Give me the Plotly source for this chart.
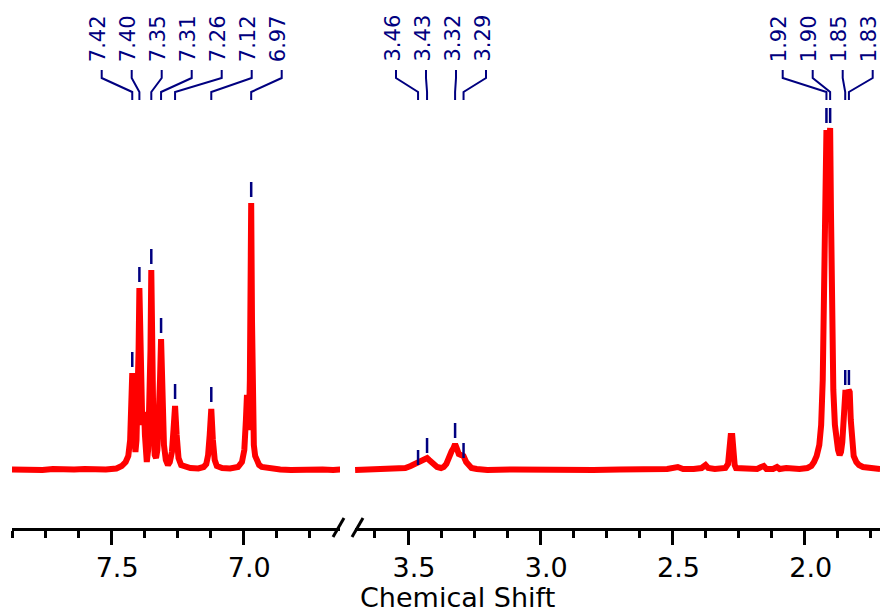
import plotly.graph_objects as go

# ---------------- data ----------------
# left (aromatic) segment of the spectrum: chemical shift (ppm) and intensity
left_ppm = [7.875, 7.84, 7.80, 7.76, 7.72, 7.68, 7.64, 7.60, 7.56, 7.52, 7.48, 7.46, 7.445, 7.435,
            7.428, 7.424, 7.420, 7.416, 7.412, 7.408, 7.404, 7.399, 7.396, 7.393, 7.390, 7.386,
            7.382, 7.378, 7.375, 7.372, 7.368, 7.365, 7.360, 7.355, 7.351, 7.348, 7.345, 7.340,
            7.335, 7.330, 7.325, 7.320, 7.315, 7.311, 7.307, 7.300, 7.293, 7.285, 7.278, 7.270,
            7.264, 7.258, 7.252, 7.245, 7.235, 7.220, 7.200, 7.170, 7.150, 7.140, 7.133, 7.127,
            7.121, 7.115, 7.108, 7.100, 7.080, 7.050, 7.020, 7.005, 6.996, 6.990, 6.986, 6.983,
            6.979, 6.975, 6.972, 6.970, 6.967, 6.964, 6.960, 6.955, 6.948, 6.940, 6.930, 6.900,
            6.860, 6.820, 6.780, 6.740, 6.700, 6.660, 6.630]
left_int = [0.5, 0, 0.5, 0, 1, 0, 0.5, 1, 0, 0.5, 1.5, 4, 8, 14,
            30, 55, 97, 55, 28, 18, 30, 70, 120, 182, 110, 60,
            45, 55, 58, 35, 12, 8, 20, 60, 120, 200, 120, 40,
            15, 12, 20, 45, 90, 131, 80, 25, 10, 5, 8, 18,
            40, 64, 35, 12, 5, 3, 2, 1.5, 3, 6, 15, 35,
            61, 30, 10, 4, 2, 1.5, 3, 8, 20, 50, 75, 50,
            40, 90, 180, 267, 150, 60, 25, 14, 8, 5, 3, 1.5,
            0.5, 0, 0.5, 0, 0.5, 0, 0.5]

# right (aliphatic) segment of the spectrum
right_ppm = [3.70, 3.66, 3.62, 3.58, 3.54, 3.51, 3.49, 3.475, 3.462, 3.45, 3.44, 3.428, 3.42, 3.41,
             3.40, 3.39, 3.375, 3.365, 3.355, 3.348, 3.341, 3.335, 3.328, 3.322, 3.316, 3.308,
             3.300, 3.290, 3.280, 3.270, 3.260, 3.240, 3.20, 3.10, 3.00, 2.90, 2.80, 2.70, 2.60,
             2.52, 2.48, 2.46, 2.42, 2.39, 2.375, 2.365, 2.34, 2.30, 2.290, 2.285, 2.280, 2.274,
             2.270, 2.265, 2.26, 2.22, 2.18, 2.165, 2.155, 2.145, 2.12, 2.105, 2.095, 2.07, 2.05,
             2.02, 1.99, 1.975, 1.965, 1.955, 1.945, 1.938, 1.932, 1.927, 1.922, 1.918, 1.914,
             1.911, 1.908, 1.904, 1.901, 1.897, 1.892, 1.886, 1.880, 1.874, 1.868, 1.863, 1.858,
             1.853, 1.849, 1.846, 1.840, 1.834, 1.830, 1.826, 1.822, 1.815, 1.805, 1.795, 1.780,
             1.76, 1.74, 1.715]
right_int = [0, 0.5, 0, 0.5, 1, 2, 4, 6, 8, 10, 11, 12, 10, 7,
             5, 3, 2, 3, 6, 12, 18, 19, 22, 26, 22, 16,
             15, 14, 8, 4, 2, 1, 0, 0.5, 0, 0.5, 0, 0.5, 0,
             1, 3, 1, 1, 2, 5, 2, 1, 2, 6, 15, 34, 34,
             15, 5, 2, 1, 1, 3, 4, 1, 1, 3, 1, 2, 1,
             1, 2, 4, 8, 14, 25, 45, 90, 170, 280, 340, 315,
             305, 320, 342, 260, 150, 80, 45, 30, 20, 15, 18, 28,
             50, 78, 80, 68, 80, 78, 50, 25, 14, 8, 5, 3,
             2, 1, 1]

# picked peaks
peak_labels = ["7.42", "7.40", "7.35", "7.31", "7.26", "7.12", "6.97",
               "3.46", "3.43", "3.32", "3.29",
               "1.92", "1.90", "1.85", "1.83"]
peak_ppm = [7.420, 7.393, 7.348, 7.311, 7.258, 7.121, 6.970,
            3.462, 3.428, 3.322, 3.290,
            1.918, 1.904, 1.847, 1.833]
peak_mark = [103, 188, 206, 137, 71, 68, 273,
             5, 17, 32, 12,
             347, 347, 85, 85]
peak_axis = ["x"] * 7 + ["x2"] * 8

x_ticks = [7.5, 7.0, 3.5, 3.0, 2.5, 2.0]

# ---------------- layout constants ----------------
W, H = 880, 614
X1_PX, X1_RANGE = (12, 340), (7.875, 6.634)
X2_PX, X2_RANGE = (355, 880), (3.7004, 1.7155)
AXIS_Y_PX = 528
Y_RANGE = (-58, 470)
NAVY = "#000080"
FONT = "DejaVu Sans"

def px_to_ppm(px, axis):
    (p0, p1), (r0, r1) = (X1_PX, X1_RANGE) if axis == "x" else (X2_PX, X2_RANGE)
    return r0 + (px - p0) / (p1 - p0) * (r1 - r0)

def py(pixel_y):
    return 1 - pixel_y / H

# label slots (connector top x in pixels), 30 px apart per group
slot_px = []
for start, n in [(101.7, 7), (396, 4), (782.7, 4)]:
    slot_px += [start + 30 * i for i in range(n)]

fig = go.Figure()
fig.add_trace(go.Scatter(x=left_ppm, y=left_int, mode="lines", xaxis="x", yaxis="y",
                         line=dict(color="#FF0000", width=6), hoverinfo="skip"))
fig.add_trace(go.Scatter(x=right_ppm, y=right_int, mode="lines", xaxis="x2", yaxis="y",
                         line=dict(color="#FF0000", width=6), hoverinfo="skip"))

shapes = []
annotations = []
for lab, ppm, mk, ax, sx in zip(peak_labels, peak_ppm, peak_mark, peak_axis, slot_px):
    # peak marker
    shapes.append(dict(type="line", xref=ax, yref="y", x0=ppm, x1=ppm, y0=mk, y1=mk + 15,
                       line=dict(color=NAVY, width=2.5)))
    # connector
    sppm = px_to_ppm(sx, ax)
    path = (f"M {sppm},{py(70)} L {sppm},{py(78)} L {ppm},{py(92)} L {ppm},{py(100)}")
    shapes.append(dict(type="path", xref=ax, yref="paper", path=path,
                       line=dict(color=NAVY, width=2)))
    annotations.append(dict(text=lab, x=(sx - 4) / W, y=py(64), xref="paper", yref="paper",
                            xanchor="center", yanchor="bottom", textangle=-90, showarrow=False,
                            font=dict(family=FONT, size=21, color=NAVY)))

# axis break marks
for x0 in (333, 352):
    shapes.append(dict(type="line", xref="paper", yref="paper", x0=x0 / W, y0=py(537),
                       x1=(x0 + 11) / W, y1=py(518), line=dict(color="black", width=3)))

annotations.append(dict(text="Chemical Shift", x=457.5 / W, y=0, xref="paper", yref="paper",
                        xanchor="center", yanchor="bottom", showarrow=False, yshift=-1,
                        font=dict(family=FONT, size=27, color="black")))

axis_common = dict(
    showgrid=False, zeroline=False, showline=True, linecolor="black", linewidth=3,
    ticks="outside", ticklen=14, tickwidth=3, tickcolor="black",
    tickvals=x_ticks, tickformat=".1f", ticklabelshift=-6,
    tickfont=dict(family=FONT, size=27, color="black"),
    minor=dict(dtick=0.125, tick0=0, ticks="outside", ticklen=7, tickwidth=3,
               tickcolor="black", showgrid=False),
    anchor="y", fixedrange=True,
)

fig.update_layout(
    width=W, height=H, margin=dict(l=0, r=0, t=0, b=0),
    paper_bgcolor="white", plot_bgcolor="white", showlegend=False,
    xaxis=dict(domain=[X1_PX[0] / W, X1_PX[1] / W], range=list(X1_RANGE), **axis_common),
    xaxis2=dict(domain=[X2_PX[0] / W, X2_PX[1] / W], range=list(X2_RANGE), **axis_common),
    yaxis=dict(domain=[py(AXIS_Y_PX), 1], range=list(Y_RANGE), visible=False, fixedrange=True),
    shapes=shapes, annotations=annotations,
)

fig.write_html("out.html", config={"displayModeBar": False})
